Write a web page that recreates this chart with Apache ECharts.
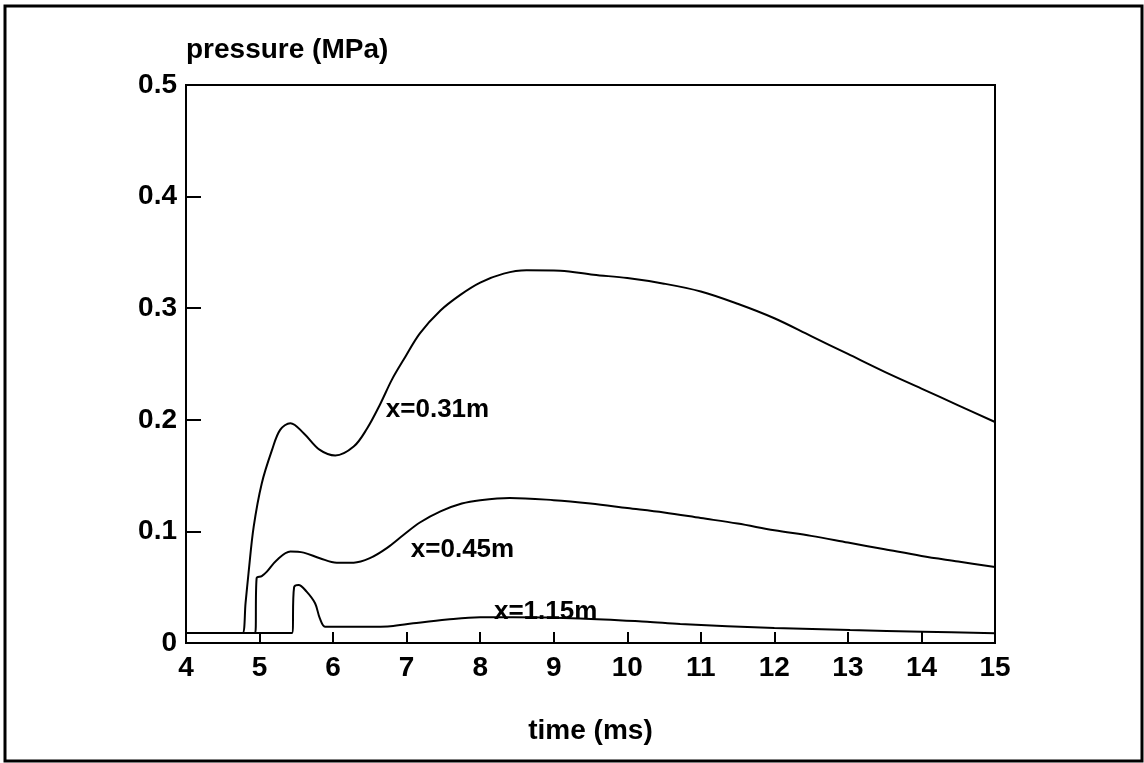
<!DOCTYPE html>
<html>
<head>
<meta charset="utf-8">
<script src="https://cdn.jsdelivr.net/npm/echarts@6/dist/echarts.min.js"></script>
<style>
html,body{margin:0;padding:0;background:#fff;}
#chart{width:1144px;height:763px;}
</style>
</head>
<body>
<div id="chart"></div>
<script>
// ---- data ----
const xTicks = [4,5,6,7,8,9,10,11,12,13,14,15];
const yTicks = [0,0.1,0.2,0.3,0.4,0.5];

const time031 = [4, 4.7, 4.77, 4.81, 4.85, 4.92, 5.03, 5.17, 5.28, 5.42, 5.6, 5.82, 6.03, 6.28, 6.46, 6.64, 6.8, 6.96, 7.18, 7.46, 7.73, 8.0, 8.32, 8.63, 9.09, 9.54, 10, 10.5, 11, 11.5, 12, 12.5, 13, 13.5, 14, 14.5, 15];
const pres031 = [0.009, 0.009, 0.009, 0.036, 0.0625, 0.104, 0.143, 0.173, 0.191, 0.197, 0.188, 0.173, 0.168, 0.176, 0.192, 0.214, 0.236, 0.254, 0.2775, 0.298, 0.312, 0.323, 0.331, 0.334, 0.3336, 0.330, 0.327, 0.322, 0.315, 0.304, 0.291, 0.275, 0.259, 0.243, 0.228, 0.213, 0.198];

const time045 = [4, 4.88, 4.94, 4.96, 5.03, 5.1, 5.23, 5.42, 5.6, 5.82, 6.05, 6.28, 6.5, 6.73, 6.96, 7.18, 7.46, 7.75, 8.0, 8.4, 9, 9.5, 10, 10.5, 11, 11.5, 12, 12.5, 13, 13.5, 14, 14.5, 15];
const pres045 = [0.009, 0.009, 0.009, 0.058, 0.060, 0.064, 0.074, 0.082, 0.081, 0.076, 0.072, 0.072, 0.076, 0.085, 0.097, 0.108, 0.118, 0.125, 0.128, 0.130, 0.128, 0.125, 0.121, 0.117, 0.112, 0.107, 0.101, 0.096, 0.090, 0.084, 0.078, 0.073, 0.068];

const time115 = [4, 5.38, 5.44, 5.47, 5.53, 5.64, 5.755, 5.82, 5.89, 6.0, 6.55, 6.78, 7.09, 7.55, 8.0, 8.45, 9.36, 10.27, 10.72, 12, 13.03, 14.02, 15];
const pres115 = [0.009, 0.009, 0.009, 0.050, 0.052, 0.046, 0.0356, 0.022, 0.0146, 0.0145, 0.0146, 0.015, 0.0176, 0.021, 0.023, 0.023, 0.022, 0.019, 0.017, 0.0135, 0.0116, 0.0101, 0.0087];

const seriesNames = ['x=0.31m', 'x=0.45m', 'x=1.15m'];
const labelAnchors = [[6.71, 0.209], [7.05, 0.0833], [8.18, 0.0278]];

const xAxisName = 'time (ms)';
const yAxisName = 'pressure (MPa)';

// ---- chart ----
const FONT = '"Liberation Sans", Arial, Helvetica, sans-serif';
const zip = (a, b) => a.map((v, i) => [v, b[i]]);
const seriesData = [zip(time031, pres031), zip(time045, pres045), zip(time115, pres115)];

const chart = echarts.init(document.getElementById('chart'), null, {renderer: 'canvas'});

const series = seriesData.map((d, i) => ({
  name: seriesNames[i],
  type: 'line',
  data: d,
  smooth: 0.35,
  showSymbol: false,
  lineStyle: {color: '#000', width: 2},
  z: 3,
  markPoint: {
    symbol: 'circle',
    symbolSize: 1,
    itemStyle: {color: 'rgba(0,0,0,0)'},
    label: {
      show: true,
      position: 'right',
      distance: 0,
      formatter: seriesNames[i],
      color: '#000',
      fontFamily: FONT,
      fontWeight: 'bold',
      fontSize: 26
    },
    data: [{coord: labelAnchors[i]}]
  }
}));

chart.setOption({
  animation: false,
  backgroundColor: '#fff',
  graphic: [{
    type: 'rect',
    shape: {x: 5, y: 6, width: 1137, height: 755},
    style: {fill: 'none', stroke: '#000', lineWidth: 3},
    silent: true
  }],
  grid: {
    left: 186, right: 149, top: 85, bottom: 120,
    show: true, borderColor: '#000', borderWidth: 2, backgroundColor: 'transparent'
  },
  xAxis: {
    type: 'value',
    min: xTicks[0], max: xTicks[xTicks.length - 1], interval: 1,
    name: xAxisName,
    nameLocation: 'middle',
    nameGap: 74,
    nameTextStyle: {color: '#000', fontFamily: FONT, fontWeight: 'bold', fontSize: 28},
    axisLine: {lineStyle: {color: '#000', width: 2}},
    axisTick: {inside: true, length: 11, lineStyle: {color: '#000', width: 2}},
    axisLabel: {color: '#000', fontFamily: FONT, fontWeight: 'bold', fontSize: 28, margin: 11},
    splitLine: {show: false}
  },
  yAxis: {
    type: 'value',
    min: yTicks[0], max: yTicks[yTicks.length - 1], interval: 0.1,
    name: yAxisName,
    nameLocation: 'end',
    nameGap: 21,
    nameTextStyle: {color: '#000', fontFamily: FONT, fontWeight: 'bold', fontSize: 28, align: 'left', verticalAlign: 'bottom'},
    axisLine: {lineStyle: {color: '#000', width: 2}},
    axisTick: {inside: true, length: 15, lineStyle: {color: '#000', width: 2}},
    axisLabel: {
      color: '#000', fontFamily: FONT, fontWeight: 'bold', fontSize: 28, margin: 9,
      formatter: v => (v === 0 ? '0' : v.toFixed(1))
    },
    splitLine: {show: false}
  },
  series: series
});
</script>
</body>
</html>
